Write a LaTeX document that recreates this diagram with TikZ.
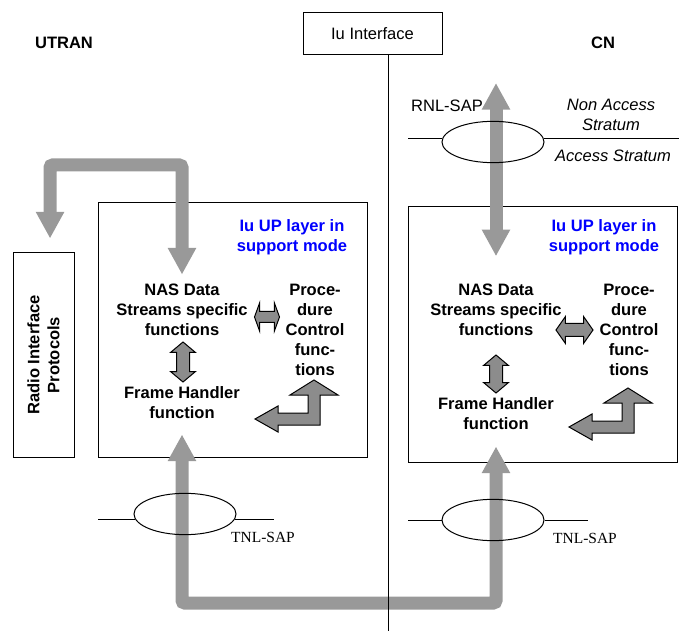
\documentclass[tikz,border=0pt]{standalone}
\usepackage{fontspec}
\setmainfont{Liberation Sans}
\newfontfamily\timesfont{Liberation Serif}
\usetikzlibrary{arrows.meta,shapes.geometric,shapes.arrows}
\definecolor{pipegray}{RGB}{153,153,153}
\definecolor{arrgray}{RGB}{140,140,140}
\begin{document}
\begin{tikzpicture}[x=0.75pt, y=-0.75pt, font=\fontsize{12.4}{15}\selectfont]
		\tikzset{
		    tbox/.style= {draw, line width=0.75pt, inner sep=0pt},
		    tbold/.style= {font=\fontsize{12.4}{15}\selectfont\bfseries, align=center, inner sep=2pt},
		    tblue/.style= {tbold, text=blue},
		    tital/.style= {font=\fontsize{12.4}{15}\selectfont\itshape, align=center},
		    tsap/.style= {ellipse, draw, line width=0.75pt, minimum width=76.5pt, minimum height=31pt, inner sep=0pt},
		    tline/.style= {line width=0.75pt},
		    tserif/.style= {font=\timesfont\fontsize{11.6}{14}\selectfont},
		    pipe/.style= {draw=pipegray, line width=9.75pt, rounded corners=2pt, {Triangle[width=20pt,length=20pt]}-{Triangle[width=20pt,length=20pt]}},
		    darrow/.style= {double arrow, draw, fill=arrgray, line width=0.75pt, inner xsep=0pt},
		    bentarrow/.pic= {\draw[line width=0.75pt, fill=arrgray] (0,-39) -- (24,-24) -- (6,-24) -- (6,6) -- (-36,6) -- (-36,13) -- (-59,0) -- (-36,-13) -- (-36,-6) -- (-6,-6) -- (-6,-24) -- (-24,-24) -- cycle;},
		}
		\useasboundingbox (0,0) rectangle (679,631);
		
		\node[tbold] (utran) at (64,43) {UTRAN};
		\node[tbold] (cn) at (603,43) {CN};
		\node[tbox, minimum width=104.25pt, minimum height=31.5pt] (iface) at (372.5,34) {Iu Interface};
		
		\node[tbox, tbold, rotate=90, minimum width=153pt, minimum height=45.75pt] (radio) at (43.5,355) {Radio Interface\\Protocols};
		\node[tbox, minimum width=201.75pt, minimum height=190.5pt] (boxL) at (232.5,330) {};
		\node[tbox, minimum width=201.75pt, minimum height=191.25pt] (boxR) at (542.5,334.5) {};
		
		\node[tblue] (modeL) at (292,237) {Iu UP layer in\\support mode};
		\node[tbold] (nasL) at (182,310) {NAS Data\\Streams specific\\functions};
		\node[tbold] (procL) at (315,330) {Proce-\\dure\\Control\\func-\\tions};
		\node[tbold] (fhL) at (182,402.5) {Frame Handler\\function};
		
		\node[tblue] (modeR) at (604,237) {Iu UP layer in\\support mode};
		\node[tbold] (nasR) at (496,310) {NAS Data\\Streams specific\\functions};
		\node[tbold] (procR) at (629,330) {Proce-\\dure\\Control\\func-\\tions};
		\node[tbold] (fhR) at (496,413.5) {Frame Handler\\function};
		
		\node (rnlsap) at (447,106) {RNL-SAP};
		\node[tital] (nonas) at (611,115) {Non Access\\Stratum};
		\node[tital] (as) at (613,156) {Access Stratum};
		\node[tserif] (tsapL) at (263,537) {TNL-SAP};
		\node[tserif] (tsapR) at (585,538) {TNL-SAP};
		
		\coordinate (topbar) at (116,165);
		\coordinate (rnltop) at (496,83);
		\coordinate (botbar) at (340,603);
		\coordinate (ifend) at (388,631);
		
		\draw[pipe] ([xshift=4.9pt, yshift=10.5pt]radio.east) |- (topbar) -| ([yshift=5pt]nasL.north);
		\draw[pipe] (rnltop) -- ([yshift=18.75pt]rnltop |- nasR.north);
		\draw[pipe] ([yshift=-9.75pt]fhL.south) |- (botbar) -| ([yshift=-10.5pt]fhR.south);
		
		\node[tsap] (rnl) at (493,142) {};
		\node[tsap] (tnlL) at (185,514) {};
		\node[tsap] (tnlR) at (493,520) {};
		\draw[tline]
		(rnl.176) -- (rnl.176 -| boxR.west)
		(rnl.4) -- ++(137,0)
		(tnlL.186) -- (tnlL.186 -| boxL.west)
		(tnlL.354) -- ++(39,0)
		(tnlR.west) -- (tnlR.west -| boxR.west)
		(tnlR.east) -- ++(43,0)
		(ifend |- iface.south) -- (ifend);
		
		\node[darrow, rotate=90, minimum height=30pt, inner ysep=4.5pt, double arrow head extend=4.5pt, double arrow tip angle=100] (nfL) at (183,362) {};
		\node[darrow, minimum height=18.75pt, inner ysep=3.75pt, double arrow head extend=6.4pt, double arrow tip angle=140] (npL) at (267,317) {};
		\node[darrow, rotate=90, minimum height=28.5pt, inner ysep=4.5pt, double arrow head extend=4.5pt, double arrow tip angle=100] (nfR) at (496,374) {};
		\node[darrow, minimum height=27.75pt, inner ysep=4.5pt, double arrow head extend=5.25pt, double arrow tip angle=110] (npR) at (574.5,330) {};
		
		\pic at (314,419) {bentarrow};
		\pic at (628,427) {bentarrow};
	\end{tikzpicture}
\end{document}
